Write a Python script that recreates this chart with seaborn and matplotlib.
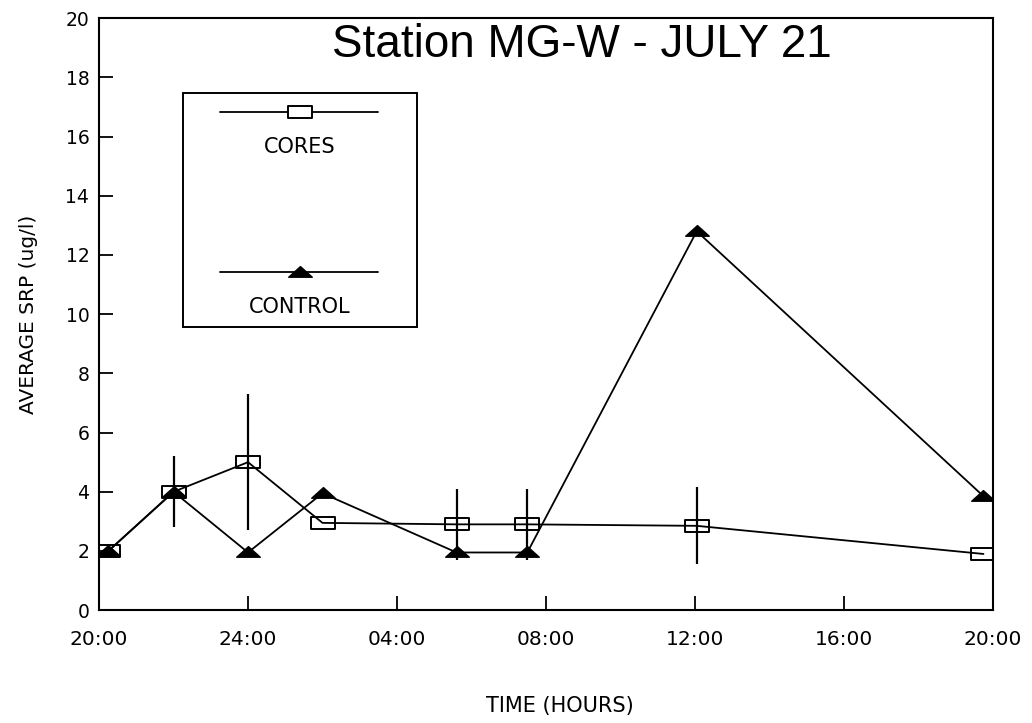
import numpy as np
import pandas as pd
import matplotlib
matplotlib.use("Agg")
import matplotlib.pyplot as plt
import seaborn as sns
from matplotlib.path import Path

# ---- data ----
hours = [0.25, 2.0, 4.0, 6.0, 9.6, 11.5, 16.05, 23.75]
cores = [2.0, 4.0, 5.0, 2.95, 2.9, 2.9, 2.85, 1.9]
cores_err = [0.0, 1.2, 2.3, 0.0, 1.2, 1.2, 1.3, 0.0]
control = [2.0, 4.0, 1.95, 3.95, 1.95, 1.95, 12.8, 3.85]
xtick_pos = [0, 4, 8, 12, 16, 20, 24]
xtick_labels = ["20:00", "24:00", "04:00", "08:00", "12:00", "16:00", "20:00"]
ytick_pos = [0, 2, 4, 6, 8, 10, 12, 14, 16, 18, 20]
title = "Station MG-W - JULY 21"
series_names = ["CORES", "CONTROL"]

sns.set_theme(style="ticks")
plt.rcParams['font.family'] = ['DejaVu Sans']
plt.rcParams['text.color'] = 'black'
plt.rcParams['axes.labelcolor'] = 'black'
plt.rcParams['xtick.color'] = 'black'
plt.rcParams['ytick.color'] = 'black'

fig = plt.figure(figsize=(10.32, 7.23), dpi=100)
ax = fig.add_axes([0.096, 0.156, 0.866, 0.819])

rect_marker = Path([(-1, -0.5), (1, -0.5), (1, 0.5), (-1, 0.5), (-1, -0.5)],
                   [Path.MOVETO, Path.LINETO, Path.LINETO, Path.LINETO, Path.CLOSEPOLY])
tri_marker = Path([(-1, -0.4), (1, -0.4), (0, 0.5), (-1, -0.4)],
                  [Path.MOVETO, Path.LINETO, Path.LINETO, Path.CLOSEPOLY])

df_cores = pd.DataFrame({"hours": hours, "value": cores})
df_control = pd.DataFrame({"hours": hours, "value": control})

ax.errorbar(hours, cores, yerr=cores_err, fmt="none", ecolor="black",
            elinewidth=1.6, capsize=0, zorder=2)

sns.lineplot(data=df_cores, x="hours", y="value", ax=ax, color="black",
             linewidth=1.3, marker=rect_marker, markersize=17,
             markerfacecolor="none", markeredgecolor="black",
             markeredgewidth=1.4, sort=False, zorder=3)
sns.lineplot(data=df_control, x="hours", y="value", ax=ax, color="black",
             linewidth=1.3, marker=tri_marker, markersize=17,
             markerfacecolor="black", markeredgecolor="black",
             markeredgewidth=1.0, sort=False, zorder=4)

ax.set_xlim(0, 24)
ax.set_ylim(0, 20)
ax.set_xticks(xtick_pos)
ax.set_xticklabels(xtick_labels, fontsize=14.5)
ax.set_yticks(ytick_pos)
ax.set_yticklabels([str(v) for v in ytick_pos], fontsize=13.5)
ax.tick_params(axis="both", direction="in", length=10, width=1.3, colors="black")
ax.tick_params(axis="x", pad=14)
ax.tick_params(axis="y", pad=7)
for sp in ax.spines.values():
    sp.set_linewidth(1.5)
    sp.set_color("black")

ax.set_xlabel("TIME (HOURS)", fontsize=15)
ax.xaxis.set_label_coords(0.516, -0.145)
ax.set_ylabel("AVERAGE SRP (ug/l)", fontsize=14.5)
ax.yaxis.set_label_coords(-0.068, 0.5)

ax.text(0.54, 0.955, title, transform=ax.transAxes, ha="center", va="center",
        fontsize=33, family=["Liberation Sans", "DejaVu Sans"])

# ---- custom legend box ----
lx0, lx1, ly0, ly1 = 0.094, 0.356, 0.478, 0.873
ax.add_patch(plt.Rectangle((lx0, ly0), lx1 - lx0, ly1 - ly0, transform=ax.transAxes,
                           fill=False, edgecolor="black", linewidth=1.4, zorder=5))
ax.plot([0.135, 0.312], [0.841, 0.841], transform=ax.transAxes, color="black",
        linewidth=1.3, zorder=6)
ax.plot([0.225], [0.841], transform=ax.transAxes, marker=rect_marker, markersize=17,
        markerfacecolor="white", markeredgecolor="black", markeredgewidth=1.4,
        linestyle="none", zorder=6)
ax.text(0.225, 0.782, series_names[0], transform=ax.transAxes, ha="center",
        va="center", fontsize=15, zorder=6)
ax.plot([0.135, 0.312], [0.571, 0.571], transform=ax.transAxes, color="black",
        linewidth=1.3, zorder=6)
ax.plot([0.225], [0.571], transform=ax.transAxes, marker=tri_marker, markersize=17,
        markerfacecolor="black", markeredgecolor="black", linestyle="none", zorder=6)
ax.text(0.225, 0.512, series_names[1], transform=ax.transAxes, ha="center",
        va="center", fontsize=15, zorder=6)

fig.savefig("out.png", dpi=100)
